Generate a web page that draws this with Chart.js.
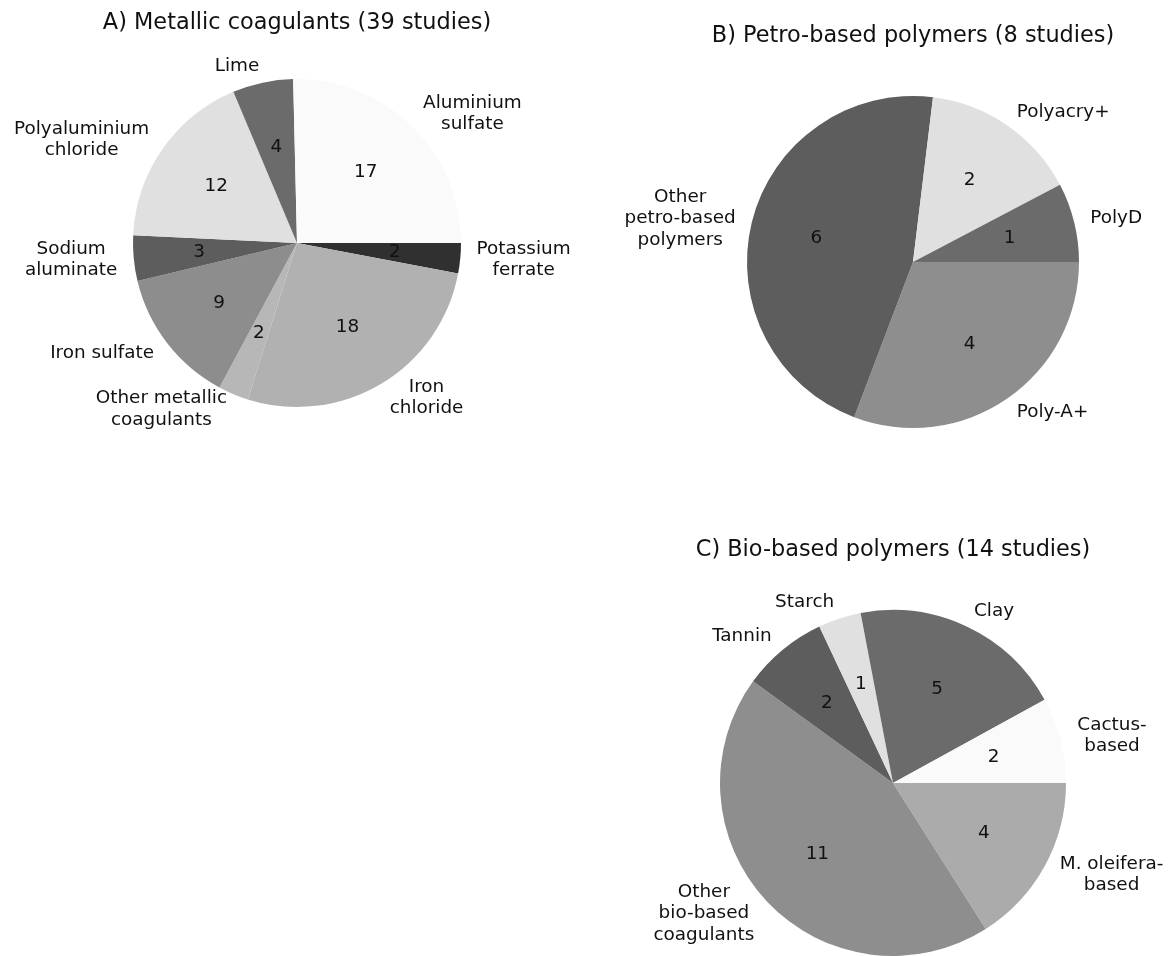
<!DOCTYPE html>
<html>
<head>
<meta charset="utf-8">
<script src="https://cdn.jsdelivr.net/npm/chart.js@4.4.0/dist/chart.umd.min.js"></script>
<style>
  html, body { margin: 0; padding: 0; background: #ffffff; }
  #wrap { position: relative; width: 1176px; height: 956px; overflow: hidden; background: #ffffff; }
  #wrap canvas { position: absolute; left: 0; top: 0; }
</style>
</head>
<body>
<div id="wrap">
  <canvas id="pieA" width="1176" height="956"></canvas>
  <canvas id="pieB" width="1176" height="956"></canvas>
  <canvas id="pieC" width="1176" height="956"></canvas>
</div>
<script>
// Slices are listed counter-clockwise, starting at 3 o'clock.
const metallicTitle = 'A) Metallic coagulants (39 studies)';
const metallicLabels = ['Aluminium\nsulfate', 'Lime', 'Polyaluminium\nchloride', 'Sodium\naluminate',
  'Iron sulfate', 'Other metallic\ncoagulants', 'Iron\nchloride', 'Potassium\nferrate'];
const metallicCounts = [17, 4, 12, 3, 9, 2, 18, 2];

const petroTitle = 'B) Petro-based polymers (8 studies)';
const petroLabels = ['PolyD', 'Polyacry+', 'Other\npetro-based\npolymers', 'Poly-A+'];
const petroCounts = [1, 2, 6, 4];

const bioTitle = 'C) Bio-based polymers (14 studies)';
const bioLabels = ['Cactus-\nbased', 'Clay', 'Starch', 'Tannin', 'Other\nbio-based\ncoagulants', 'M. oleifera-\nbased'];
const bioCounts = [2, 5, 1, 2, 11, 4];

// Grey shades per slice
const metallicShades = ['#fafafa', '#6b6b6b', '#e0e0e0', '#5d5d5d', '#8d8d8d', '#b7b7b7', '#b1b1b1', '#303030'];
const petroShades = ['#6b6b6b', '#e0e0e0', '#5d5d5d', '#8e8e8e'];
const bioShades = ['#fafafa', '#6b6b6b', '#e0e0e0', '#5d5d5d', '#8e8e8e', '#ababab'];

const FONT = '"DejaVu Sans", "Liberation Sans", sans-serif';
const LABEL_SIZE = 18.4;
const TITLE_SIZE = 22.4;

// Draws the count inside each wedge, the category name outside it, and the panel title.
const pieText = {
  id: 'pieText',
  afterDatasetsDraw(chart, args, opts) {
    const ctx = chart.ctx;
    const meta = chart.getDatasetMeta(0);
    const labels = chart.data.labels;
    const values = chart.data.datasets[0].data;
    ctx.save();
    ctx.fillStyle = '#111111';
    ctx.font = LABEL_SIZE + 'px ' + FONT;
    ctx.textBaseline = 'middle';
    let cx = 0, top = 0;
    meta.data.forEach((arc, i) => {
      const p = arc.getProps(['x', 'y', 'startAngle', 'endAngle', 'outerRadius'], true);
      cx = p.x; top = p.y - p.outerRadius;
      const mid = (p.startAngle + p.endAngle) / 2;
      const c = Math.cos(mid), s = Math.sin(mid);
      ctx.textAlign = 'center';
      ctx.fillText(String(values[i]), p.x + 0.6 * p.outerRadius * c, p.y + 0.6 * p.outerRadius * s);
      const lx = p.x + 1.1 * p.outerRadius * c;
      const ly = p.y + 1.1 * p.outerRadius * s;
      const lines = labels[i].split('\n');
      const bw = Math.max(...lines.map(l => ctx.measureText(l).width));
      const bx = c > 0 ? lx + bw / 2 : lx - bw / 2;
      const lh = LABEL_SIZE * 1.17;
      lines.forEach((l, k) => {
        ctx.fillText(l, bx, ly + (k - (lines.length - 1) / 2) * lh);
      });
    });
    ctx.font = TITLE_SIZE + 'px ' + FONT;
    ctx.textAlign = 'center';
    ctx.textBaseline = 'alphabetic';
    ctx.fillText(opts.title, cx, top - opts.titleGap);
    ctx.restore();
  }
};

function makePie(id, title, labels, counts, shades, cx, cy, r, titleGap) {
  const W = 1176, H = 956;
  // Reverse so that Chart.js (clockwise) lays the wedges out counter-clockwise from 3 o'clock.
  const lab = labels.slice().reverse();
  const val = counts.slice().reverse();
  const col = shades.slice().reverse();
  new Chart(document.getElementById(id), {
    type: 'pie',
    data: {
      labels: lab,
      datasets: [{ data: val, backgroundColor: col, borderWidth: 0, hoverOffset: 0 }]
    },
    options: {
      responsive: false,
      animation: false,
      devicePixelRatio: 1,
      rotation: 90,
      layout: { padding: { left: cx - r, top: cy - r, right: W - (cx + r), bottom: H - (cy + r) } },
      events: [],
      plugins: {
        legend: { display: false },
        tooltip: { enabled: false },
        title: { display: false },
        pieText: { title: title, titleGap: titleGap }
      }
    },
    plugins: [pieText]
  });
}

makePie('pieA', metallicTitle, metallicLabels, metallicCounts, metallicShades, 297, 243, 164, 50);
makePie('pieB', petroTitle, petroLabels, petroCounts, petroShades, 913, 262, 166, 54);
makePie('pieC', bioTitle, bioLabels, bioCounts, bioShades, 893, 783, 173, 54);
</script>
</body>
</html>
